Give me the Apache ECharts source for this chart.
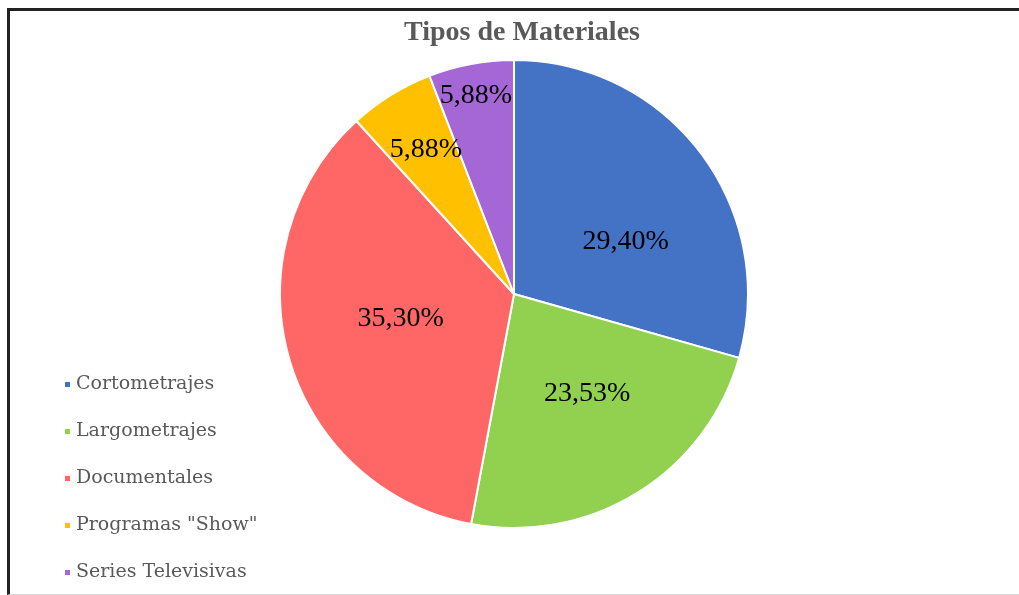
<!DOCTYPE html>
<html><head><meta charset="utf-8">
<script src="https://cdn.jsdelivr.net/npm/echarts@6/dist/echarts.min.js"></script>
<style>
html,body{margin:0;padding:0;background:#fff;width:1019px;height:595px;overflow:hidden;}
#frame{position:absolute;left:7px;top:8px;width:1009px;height:583px;border-top:3px solid #222;border-left:3px solid #222;border-bottom:1px solid #d9d9d9;border-right:1px solid #eee;}
#c{position:absolute;left:0;top:0;width:1019px;height:595px;}
</style></head>
<body><div id="frame"></div><div id="c"></div>
<script>
const categories = ['Cortometrajes','Largometrajes','Documentales','Programas "Show"','Series Televisivas'];
const values = [29.40, 23.53, 35.30, 5.88, 5.88];
const colors = ['#4472C4','#92D050','#FF6666','#FFC000','#A566D6'];
const labelOffsets = [[16,20],[10,-2],[2,-8],[-25,-42],[-16,-80]];

const chart = echarts.init(document.getElementById('c'));
chart.setOption({
  animation:false,
  title:{text:'Tipos de Materiales',left:517,textAlign:'center',top:14,
    textStyle:{fontFamily:'Liberation Serif',fontWeight:'bold',fontSize:28,color:'#595959'}},
  legend:{orient:'vertical',left:58,top:369,itemWidth:7,itemHeight:7,icon:'rect',itemGap:26,
    data:categories,
    textStyle:{fontFamily:'DejaVu Serif',fontSize:19,color:'#595959',lineHeight:21}},
  series:[{
    type:'pie',center:[514,294],radius:[0,234],startAngle:90,clockwise:true,
    itemStyle:{borderColor:'#fff',borderWidth:2},
    label:{position:'inside',fontFamily:'Liberation Serif',fontSize:28,color:'#000',
      formatter:p=>p.value.toFixed(2).replace('.',',')+'%'},
    labelLine:{show:false},
    data:categories.map((n,i)=>({name:n,value:values[i],itemStyle:{color:colors[i]},
      label:{offset:labelOffsets[i]}}))
  }]
});
</script></body></html>
